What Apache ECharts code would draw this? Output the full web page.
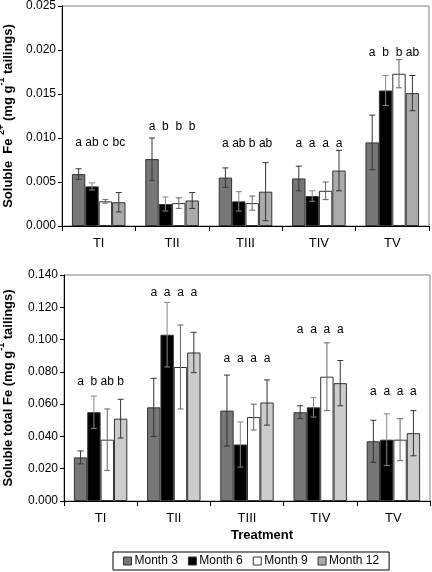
<!DOCTYPE html>
<html><head><meta charset="utf-8">
<script src="https://cdn.jsdelivr.net/npm/echarts@6/dist/echarts.min.js"></script>
<style>html,body{margin:0;padding:0;background:#fff}#c{width:432px;height:572px}</style>
</head><body><div id="c"></div>
<script>
var categories = ['TI','TII','TIII','TIV','TV'];
var months = ['Month 3','Month 6','Month 9','Month 12'];

// Soluble Fe2+ (top)
var fe2Month3 = [0.0059, 0.0076, 0.0055, 0.0054, 0.0095];
var fe2Month6 = [0.0045, 0.0025, 0.0028, 0.0034, 0.0154];
var fe2Month9 = [0.0028, 0.0026, 0.0026, 0.0040, 0.0173];
var fe2Month12 = [0.0027, 0.0029, 0.0039, 0.0063, 0.0151];
var fe2Err3 = [0.0006, 0.0024, 0.0011, 0.0014, 0.0031];
var fe2Err6 = [0.0004, 0.0008, 0.0011, 0.0006, 0.0017];
var fe2Err9 = [0.0002, 0.0006, 0.0008, 0.0010, 0.0016];
var fe2Err12 = [0.0011, 0.0009, 0.0033, 0.0023, 0.0020];
var fe2Letters = [['a','ab','c','bc'],['a','b','b','b'],['a','ab','b','ab'],['a','a','a','a'],['a','b','b','ab']];
var fe2LetterY = [0.0095, 0.0113, 0.0094, 0.0094, 0.0197];
var fe2Ticks = [0, 0.005, 0.010, 0.015, 0.020, 0.025];

// Soluble total Fe (bottom)
var totMonth3 = [0.027, 0.058, 0.056, 0.055, 0.037];
var totMonth6 = [0.055, 0.103, 0.035, 0.058, 0.038];
var totMonth9 = [0.038, 0.083, 0.052, 0.077, 0.038];
var totMonth12 = [0.051, 0.092, 0.061, 0.073, 0.042];
var totErr3 = [0.004, 0.018, 0.022, 0.004, 0.013];
var totErr6 = [0.010, 0.020, 0.014, 0.006, 0.016];
var totErr9 = [0.019, 0.026, 0.008, 0.021, 0.013];
var totErr12 = [0.012, 0.0125, 0.014, 0.014, 0.014];
var totLetters = [['a','b','ab','b'],['a','a','a','a'],['a','a','a','a'],['a','a','a','a'],['a','a','a','a']];
var totLetterY = [0.074, 0.129, 0.088, 0.106, 0.068];
var totTicks = [0, 0.020, 0.040, 0.060, 0.080, 0.100, 0.120, 0.140];

var FONT = 'Liberation Sans, Arial, sans-serif';
var colorsTop = ['#777777', '#000000', '#ffffff', '#aaaaaa'];
var colorsBot = ['#777777', '#000000', '#ffffff', '#cccccc'];
var errColors = ['#333333', '#888888', '#666666', '#333333'];
var GAP = 0.27;

var fe2Means = [fe2Month3, fe2Month6, fe2Month9, fe2Month12];
var fe2Errs = [fe2Err3, fe2Err6, fe2Err9, fe2Err12];
var totMeans = [totMonth3, totMonth6, totMonth9, totMonth12];
var totErrs = [totErr3, totErr6, totErr9, totErr12];

function customData(means, errs, letters, letterY) {
  var d = [];
  for (var c = 0; c < categories.length; c++) {
    for (var m = 0; m < months.length; m++) {
      d.push([c, m, means[m][c], errs[m][c], letterY[c], letters[c][m]]);
    }
  }
  return d;
}

function renderItem(params, api) {
  var c = api.value(0), m = api.value(1), mean = api.value(2), err = api.value(3), ly = api.value(4);
  var letter = api.value(5);
  var band = api.size([1, 0])[0];
  var bw = band * (1 - GAP) / 4;
  var base = api.coord([c, mean]);
  var x = base[0] + (m - 1.5) * bw;
  var yTop = api.coord([c, mean + err])[1];
  var yBot = api.coord([c, Math.max(0, mean - err)])[1];
  var yL = api.coord([c, ly])[1];
  var cap = 3;
  var col = errColors[m];
  var st = {stroke: col, lineWidth: 1};
  return {
    type: 'group',
    children: [
      {type: 'line', shape: {x1: x, y1: yTop, x2: x, y2: yBot}, style: st},
      {type: 'line', shape: {x1: x - cap, y1: yTop, x2: x + cap, y2: yTop}, style: st},
      {type: 'line', shape: {x1: x - cap, y1: yBot, x2: x + cap, y2: yBot}, style: st},
      {type: 'text', x: x, y: yL, style: {text: letter, fill: '#000', font: '12px ' + FONT, align: 'center', verticalAlign: 'middle'}}
    ]
  };
}

function barSeries(means, colors, gridIdx) {
  return months.map(function (name, m) {
    return {
      name: name, type: 'bar', xAxisIndex: gridIdx, yAxisIndex: gridIdx,
      data: means[m], barGap: '0%', barCategoryGap: (GAP * 100) + '%',
      itemStyle: {color: colors[m], borderColor: '#333', borderWidth: 1},
      emphasis: {disabled: true}, animation: false
    };
  });
}

var chart = echarts.init(document.getElementById('c'), null, {renderer: 'canvas'});

function yAxis(gridIdx, max, interval, name, nameGap) {
  return {
    type: 'value', gridIndex: gridIdx, min: 0, max: max, interval: interval,
    name: name, nameLocation: 'middle', nameGap: nameGap, nameRotate: 90,
    nameTextStyle: {fontFamily: FONT, fontSize: 13, fontWeight: 'bold', color: '#000',
      rich: {
        b: {fontFamily: FONT, fontSize: 13, fontWeight: 'bold', color: '#000', lineHeight: 18, verticalAlign: 'bottom'},
        sup: {fontFamily: FONT, fontSize: 9, fontWeight: 'bold', color: '#000', lineHeight: 18, verticalAlign: 'top'}
      }},
    axisLine: {show: true, lineStyle: {color: '#000', width: 1}},
    axisTick: {show: true, length: 4, lineStyle: {color: '#000'}},
    splitLine: {show: false},
    axisLabel: {fontFamily: FONT, fontSize: 12, color: '#000', margin: 6,
      formatter: function (v) { return v.toFixed(3); }}
  };
}
function xAxis(gridIdx) {
  return {
    type: 'category', gridIndex: gridIdx, data: categories, boundaryGap: true,
    axisLine: {show: true, lineStyle: {color: '#000', width: 1}},
    axisTick: {show: true, length: 5, alignWithLabel: false, lineStyle: {color: '#000'}},
    axisLabel: {fontFamily: FONT, fontSize: 13, color: '#000', margin: 11}
  };
}

var option = {
  animation: false,
  backgroundColor: '#fff',
  grid: [
    {left: 62, top: 6, width: 367, height: 220, show: true, borderColor: '#808080', borderWidth: 1, outerBoundsMode: 'none', containLabel: false},
    {left: 64, top: 275, width: 366, height: 226, show: true, borderColor: '#808080', borderWidth: 1, outerBoundsMode: 'none', containLabel: false}
  ],
  xAxis: [xAxis(0), xAxis(1)],
  yAxis: [
    yAxis(0, 0.025, 0.005, '{b|Soluble  Fe }{sup|2+}{b| (mg g}{sup|-1}{b| tailings)}', 47),
    yAxis(1, 0.140, 0.020, '{b|Soluble total Fe (mg g}{sup|-1}{b| tailings)}', 49)
  ],
  title: {text: 'Treatment', left: 257, top: 524, textAlign: 'center',
    textStyle: {fontFamily: FONT, fontSize: 13, fontWeight: 'bold', color: '#000'}},
  legend: {
    data: months, left: 113, top: 552, width: 274, orient: 'horizontal',
    borderColor: '#000', borderWidth: 1, padding: [3, 10, 3, 10], itemGap: 10,
    icon: 'rect', itemWidth: 8, itemHeight: 8,
    textStyle: {fontFamily: FONT, fontSize: 12, color: '#000', padding: [0, 0, 0, -2]},
    itemStyle: {borderColor: '#333', borderWidth: 1},
    selectedMode: false
  },
  series: [].concat(
    barSeries(fe2Means, colorsTop, 0),
    barSeries(totMeans, colorsBot, 1),
    [
      {type: 'custom', xAxisIndex: 0, yAxisIndex: 0, renderItem: renderItem, z: 5,
        data: customData(fe2Means, fe2Errs, fe2Letters, fe2LetterY), encode: {x: 0, y: 2}, silent: true},
      {type: 'custom', xAxisIndex: 1, yAxisIndex: 1, renderItem: renderItem, z: 5,
        data: customData(totMeans, totErrs, totLetters, totLetterY), encode: {x: 0, y: 2}, silent: true}
    ]
  )
};
chart.setOption(option);
</script></body></html>
